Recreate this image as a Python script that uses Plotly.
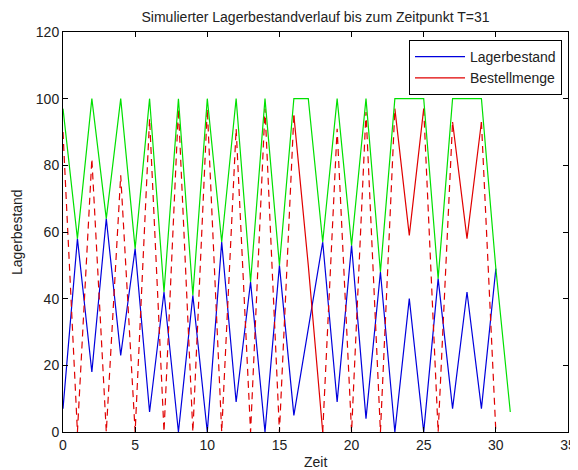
import plotly.graph_objects as go

# ---- data ----
zeit_lager = list(range(0, 31))
lagerbestand = [7, 58, 18, 64, 23, 55, 6, 42, 0, 41, 0, 57, 9, 45, 0, 50,
                5, 31, 57, 9, 56, 4, 48, 0, 40, 0, 46, 7, 42, 7, 49]

zeit_bestell = list(range(0, 31))
bestellmenge = [90, 0, 82, 0, 77, 0, 94, 0, 97, 0, 97, 0, 91, 0, 97, 0,
                95, 50, 0, 91, 0, 96, 0, 97, 59, 97, 0, 93, 58, 93, 0]

zeit_summe = list(range(0, 32))
summe = [97, 58, 100, 64, 100, 55, 100, 42, 100, 41, 100, 57, 100, 45, 100, 50,
         100, 100, 57, 100, 56, 100, 48, 100, 100, 100, 46, 100, 100, 100, 49, 6]

x_ticks = [0, 5, 10, 15, 20, 25, 30, 35]
y_ticks = [0, 20, 40, 60, 80, 100, 120]

title_text = "Simulierter Lagerbestandverlauf bis zum Zeitpunkt T=31"
x_label = "Zeit"
y_label = "Lagerbestand"

# ---- split Bestellmenge into steep (rendered dashed in reference) and gentle parts ----
steep_x, steep_y, flat_x, flat_y = [], [], [], []
for i in range(len(bestellmenge) - 1):
    x0, x1 = zeit_bestell[i], zeit_bestell[i + 1]
    y0, y1 = bestellmenge[i], bestellmenge[i + 1]
    steep = abs(y1 - y0) > 60
    tx, ty = (steep_x, steep_y) if steep else (flat_x, flat_y)
    if tx and tx[-1] == x0 and ty[-1] == y0:
        tx.append(x1); ty.append(y1)
    else:
        if tx:
            tx.append(None); ty.append(None)
        tx.extend([x0, x1]); ty.extend([y0, y1])

BLUE = "#0000dd"
RED = "#e00000"
GREEN = "#00e000"
FONT = "Liberation Sans, Arial, sans-serif"
TXT = "#222"

# page body has an 8px margin: figure is sized/placed to compensate
W, H = 570, 462
L, R, T, B = 55, 10, 24, 38
PW, PH = W - L - R, H - T - B

fig = go.Figure()
fig.add_trace(go.Scatter(x=zeit_lager, y=lagerbestand, mode="lines", name="Lagerbestand",
                         line=dict(color=BLUE, width=1.2)))
fig.add_trace(go.Scatter(x=flat_x, y=flat_y, mode="lines", name="Bestellmenge",
                         line=dict(color=RED, width=1.2)))
fig.add_trace(go.Scatter(x=steep_x, y=steep_y, mode="lines", showlegend=False,
                         line=dict(color=RED, width=1.2, dash="7px,5px")))
fig.add_trace(go.Scatter(x=zeit_summe, y=summe, mode="lines", showlegend=False,
                         line=dict(color=GREEN, width=1.2)))

axis_common = dict(showline=True, linecolor="black", linewidth=1, mirror="ticks",
                   ticks="inside", ticklen=5, tickcolor="black", showgrid=False,
                   zeroline=False, automargin=False,
                   tickfont=dict(family=FONT, size=14, color=TXT))

fig.update_xaxes(range=[0, 35], tickvals=x_ticks, **axis_common)
fig.update_yaxes(range=[0, 120], tickvals=y_ticks, **axis_common)

fig.update_layout(
    width=W, height=H,
    margin=dict(l=L, r=R, t=T, b=B, pad=0),
    paper_bgcolor="white", plot_bgcolor="white",
    font=dict(family=FONT, size=14, color=TXT),
    title=dict(text=title_text, x=0.5, xref="paper", y=1 - 9 / H, yref="container",
               yanchor="middle", xanchor="center", font=dict(family=FONT, size=14, color=TXT)),
    legend=dict(x=1 - 6 / PW, y=1 - 8 / PH, xanchor="right", yanchor="top",
                bgcolor="white", bordercolor="black", borderwidth=1,
                itemwidth=50,
                font=dict(family=FONT, size=14, color=TXT),
                tracegroupgap=0),
    annotations=[
        dict(text=x_label, xref="paper", yref="paper", x=0.5, y=-30 / PH,
             showarrow=False, xanchor="center", yanchor="middle",
             font=dict(family=FONT, size=14, color=TXT)),
        dict(text=y_label, xref="paper", yref="paper", x=(9 - L) / PW, y=0.5,
             showarrow=False, textangle=-90, xanchor="center", yanchor="middle",
             font=dict(family=FONT, size=14, color=TXT)),
    ],
)

fig.write_html("out.html")
